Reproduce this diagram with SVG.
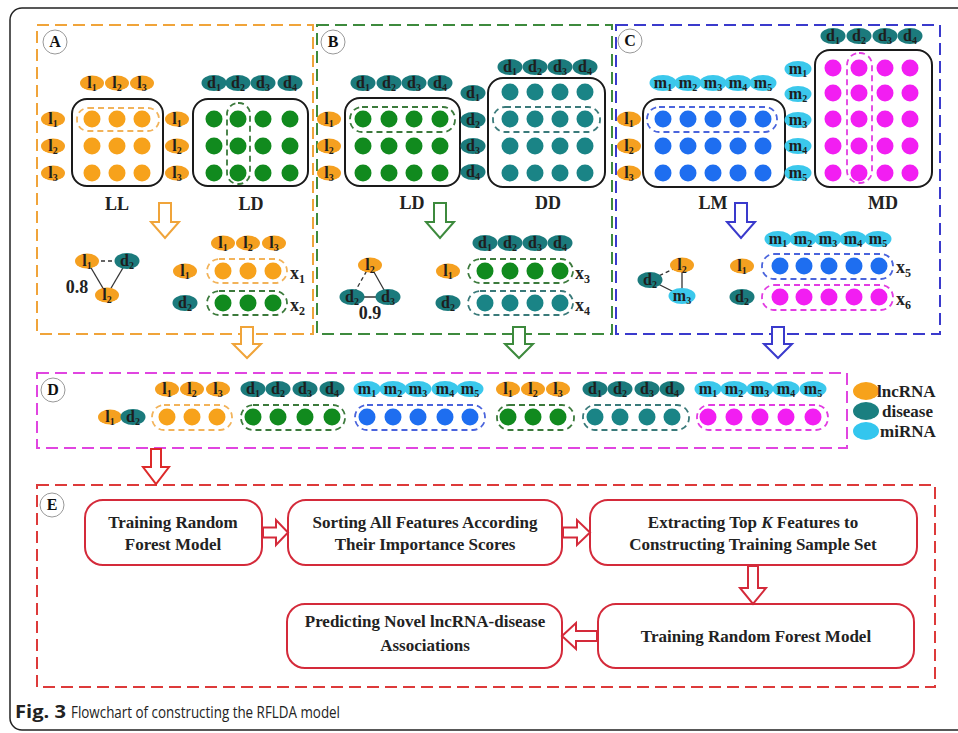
<svg xmlns="http://www.w3.org/2000/svg" xmlns:xlink="http://www.w3.org/1999/xlink" width="958" height="733" viewBox="0 0 958 733">
<style>
.frame{fill:none;stroke:#222;stroke-width:1.5}
.pb{fill:none;stroke-width:2;stroke-dasharray:12 6}
.mx{fill:none;stroke:#1a1a1a;stroke-width:2}
.dsh{fill:none;stroke-width:1.8;stroke-dasharray:6 4}
.co{fill:#F7A21B}.cg{fill:#118A1E}.ct{fill:#1A8486}.cb{fill:#1E6EF0}.cm{fill:#F21EF2}
.eo{fill:#F5A020}.et{fill:#1B7A7C}.ec{fill:#3BC8EC}
.lt{font-family:"Liberation Serif",serif;font-weight:bold;font-size:16px;fill:#1e1e1e;text-anchor:middle}
.sb{font-size:10px}
.big{font-family:"Liberation Serif",serif;font-weight:bold;font-size:18px;fill:#222;text-anchor:middle}
.xl{font-family:"Liberation Serif",serif;font-weight:bold;font-size:18px;fill:#222}
.pc{fill:#fff;stroke:#999;stroke-width:1}
.pt{font-family:"Liberation Serif",serif;font-weight:bold;font-size:16px;fill:#111;text-anchor:middle}
.bx{fill:#fff;stroke:#D42A3A;stroke-width:2}
.bt{font-family:"Liberation Serif",serif;font-weight:bold;font-size:17px;fill:#222;text-anchor:middle}
.ed{stroke:#333;stroke-width:1.3;fill:none}
.edd{stroke:#333;stroke-width:1.3;fill:none;stroke-dasharray:4 3}
.ha{fill:#fff;stroke-width:2;stroke-linejoin:miter}
.leg{font-family:"Liberation Serif",serif;font-weight:bold;font-size:17px;fill:#222}
.cap{font-family:"Open Sans","Noto Sans",sans-serif;font-size:17px;fill:#222}
</style>
<defs>
<g id="l1"><ellipse class="eo" rx="12" ry="7.5"/><text class="lt" y="5">l<tspan class="sb" dy="3">1</tspan></text></g>
<g id="l2"><ellipse class="eo" rx="12" ry="7.5"/><text class="lt" y="5">l<tspan class="sb" dy="3">2</tspan></text></g>
<g id="l3"><ellipse class="eo" rx="12" ry="7.5"/><text class="lt" y="5">l<tspan class="sb" dy="3">3</tspan></text></g>
<g id="d1"><ellipse class="et" rx="12.5" ry="8"/><text class="lt" y="5">d<tspan class="sb" dy="3">1</tspan></text></g>
<g id="d2"><ellipse class="et" rx="12.5" ry="8"/><text class="lt" y="5">d<tspan class="sb" dy="3">2</tspan></text></g>
<g id="d3"><ellipse class="et" rx="12.5" ry="8"/><text class="lt" y="5">d<tspan class="sb" dy="3">3</tspan></text></g>
<g id="d4"><ellipse class="et" rx="12.5" ry="8"/><text class="lt" y="5">d<tspan class="sb" dy="3">4</tspan></text></g>
<g id="m1"><ellipse class="ec" rx="13.5" ry="8"/><text class="lt" y="5">m<tspan class="sb" dy="3">1</tspan></text></g>
<g id="m2"><ellipse class="ec" rx="13.5" ry="8"/><text class="lt" y="5">m<tspan class="sb" dy="3">2</tspan></text></g>
<g id="m3"><ellipse class="ec" rx="13.5" ry="8"/><text class="lt" y="5">m<tspan class="sb" dy="3">3</tspan></text></g>
<g id="m4"><ellipse class="ec" rx="13.5" ry="8"/><text class="lt" y="5">m<tspan class="sb" dy="3">4</tspan></text></g>
<g id="m5"><ellipse class="ec" rx="13.5" ry="8"/><text class="lt" y="5">m<tspan class="sb" dy="3">5</tspan></text></g>
</defs>

<rect width="958" height="733" fill="#fff"/>
<path class="frame" d="M958,8 H22 A12,12 0 0 0 10,20 V718 A12,12 0 0 0 22,730 H958"/>

<!-- Panel A -->
<g id="panel-A">
<rect class="pb" x="37" y="25" width="276" height="309" stroke="#F0A43A"/>
<circle class="pc" cx="55" cy="42" r="12"/><text class="pt" x="55" y="47">A</text>
<use href="#l1" x="92" y="83"/><use href="#l2" x="117" y="83"/><use href="#l3" x="142" y="83"/>
<use href="#d1" x="214" y="83"/><use href="#d2" x="238" y="83"/><use href="#d3" x="263" y="83"/><use href="#d4" x="290" y="83"/>
<use href="#l1" x="53" y="119"/><use href="#l2" x="53" y="146"/><use href="#l3" x="53" y="173"/>
<use href="#l1" x="177" y="119"/><use href="#l2" x="177" y="146"/><use href="#l3" x="177" y="173"/>
<g id="matrix-LL">
<rect class="mx" x="72" y="99" width="91" height="87" rx="15"/>
<circle class="co" cx="92" cy="119" r="8.5"/><circle class="co" cx="117" cy="119" r="8.5"/><circle class="co" cx="142" cy="119" r="8.5"/>
<circle class="co" cx="92" cy="146" r="8.5"/><circle class="co" cx="117" cy="146" r="8.5"/><circle class="co" cx="142" cy="146" r="8.5"/>
<circle class="co" cx="92" cy="173" r="8.5"/><circle class="co" cx="117" cy="173" r="8.5"/><circle class="co" cx="142" cy="173" r="8.5"/>
<rect class="dsh" x="77" y="108" width="82" height="23" rx="11" stroke="#F2B35A"/>
</g>
<g id="matrix-LD-A">
<rect class="mx" x="193" y="99" width="115" height="87" rx="15"/>
<circle class="cg" cx="214" cy="119" r="8.5"/><circle class="cg" cx="238" cy="119" r="8.5"/><circle class="cg" cx="263" cy="119" r="8.5"/><circle class="cg" cx="290" cy="119" r="8.5"/>
<circle class="cg" cx="214" cy="146" r="8.5"/><circle class="cg" cx="238" cy="146" r="8.5"/><circle class="cg" cx="263" cy="146" r="8.5"/><circle class="cg" cx="290" cy="146" r="8.5"/>
<circle class="cg" cx="214" cy="173" r="8.5"/><circle class="cg" cx="238" cy="173" r="8.5"/><circle class="cg" cx="263" cy="173" r="8.5"/><circle class="cg" cx="290" cy="173" r="8.5"/>
<rect class="dsh" x="227" y="103" width="23" height="81" rx="11" stroke="#3C7A3C"/>
</g>
<text class="big" x="117" y="210">LL</text><text class="big" x="251" y="210">LD</text>
<g id="triangle-A">
<line class="edd" x1="87" y1="261" x2="127" y2="261"/><line class="ed" x1="87" y1="261" x2="107" y2="295"/><line class="ed" x1="127" y1="261" x2="107" y2="295"/>
<use href="#l1" x="87" y="261"/><use href="#d2" x="127" y="261"/><use href="#l2" x="107" y="295"/>
<text class="big" x="77" y="293">0.8</text>
</g>
<use href="#l1" x="223" y="243"/><use href="#l2" x="248" y="243"/><use href="#l3" x="274" y="243"/>
<use href="#l1" x="185" y="271"/>
<rect class="dsh" x="207" y="259" width="80" height="24" rx="12" stroke="#F2B35A"/>
<circle class="co" cx="223" cy="271" r="8.5"/><circle class="co" cx="248" cy="271" r="8.5"/><circle class="co" cx="273" cy="271" r="8.5"/>
<text class="xl" x="290" y="279">x<tspan font-size="12" dy="4">1</tspan></text>
<use href="#d2" x="185" y="303"/>
<rect class="dsh" x="207" y="291" width="80" height="24" rx="12" stroke="#3C7A3C"/>
<circle class="cg" cx="223" cy="303" r="8.5"/><circle class="cg" cx="248" cy="303" r="8.5"/><circle class="cg" cx="273" cy="303" r="8.5"/>
<text class="xl" x="290" y="311">x<tspan font-size="12" dy="4">2</tspan></text>
</g>

<!-- Panel B -->
<g id="panel-B">
<rect class="pb" x="317" y="25" width="295" height="309" stroke="#3D8A3D"/>
<circle class="pc" cx="333" cy="42" r="12"/><text class="pt" x="333" y="47">B</text>
<use href="#l1" x="329" y="119"/><use href="#l2" x="329" y="146"/><use href="#l3" x="329" y="173"/>
<use href="#d1" x="363" y="83"/><use href="#d2" x="389" y="83"/><use href="#d3" x="414" y="83"/><use href="#d4" x="440" y="83"/>
<g id="matrix-LD-B">
<rect class="mx" x="345" y="98" width="115" height="88" rx="15"/>
<circle class="cg" cx="363" cy="119" r="8.5"/><circle class="cg" cx="389" cy="119" r="8.5"/><circle class="cg" cx="414" cy="119" r="8.5"/><circle class="cg" cx="440" cy="119" r="8.5"/>
<circle class="cg" cx="363" cy="146" r="8.5"/><circle class="cg" cx="389" cy="146" r="8.5"/><circle class="cg" cx="414" cy="146" r="8.5"/><circle class="cg" cx="440" cy="146" r="8.5"/>
<circle class="cg" cx="363" cy="173" r="8.5"/><circle class="cg" cx="389" cy="173" r="8.5"/><circle class="cg" cx="414" cy="173" r="8.5"/><circle class="cg" cx="440" cy="173" r="8.5"/>
<rect class="dsh" x="350" y="107" width="105" height="25" rx="12" stroke="#3C7A3C"/>
</g>
<use href="#d1" x="473" y="93"/><use href="#d2" x="473" y="120"/><use href="#d3" x="473" y="146"/><use href="#d4" x="473" y="172"/>
<use href="#d1" x="510" y="67"/><use href="#d2" x="535" y="67"/><use href="#d3" x="560" y="67"/><use href="#d4" x="585" y="67"/>
<g id="matrix-DD">
<rect class="mx" x="488" y="78" width="117" height="109" rx="15"/>
<circle class="ct" cx="510" cy="92" r="8.5"/><circle class="ct" cx="535" cy="92" r="8.5"/><circle class="ct" cx="560" cy="92" r="8.5"/><circle class="ct" cx="585" cy="92" r="8.5"/>
<circle class="ct" cx="510" cy="119" r="8.5"/><circle class="ct" cx="535" cy="119" r="8.5"/><circle class="ct" cx="560" cy="119" r="8.5"/><circle class="ct" cx="585" cy="119" r="8.5"/>
<circle class="ct" cx="510" cy="146" r="8.5"/><circle class="ct" cx="535" cy="146" r="8.5"/><circle class="ct" cx="560" cy="146" r="8.5"/><circle class="ct" cx="585" cy="146" r="8.5"/>
<circle class="ct" cx="510" cy="173" r="8.5"/><circle class="ct" cx="535" cy="173" r="8.5"/><circle class="ct" cx="560" cy="173" r="8.5"/><circle class="ct" cx="585" cy="173" r="8.5"/>
<rect class="dsh" x="493" y="107" width="107" height="25" rx="12" stroke="#3A7A7A"/>
</g>
<text class="big" x="412" y="209">LD</text><text class="big" x="548" y="209">DD</text>
<g id="triangle-B">
<line class="edd" x1="370" y1="265" x2="352" y2="297"/><line class="ed" x1="370" y1="265" x2="388" y2="297"/><line class="ed" x1="352" y1="297" x2="388" y2="297"/>
<use href="#l2" x="370" y="265"/><use href="#d2" x="352" y="297"/><use href="#d3" x="388" y="297"/>
<text class="big" x="370" y="319">0.9</text>
</g>
<use href="#d1" x="485" y="243"/><use href="#d2" x="510" y="243"/><use href="#d3" x="535" y="243"/><use href="#d4" x="560" y="243"/>
<use href="#l1" x="448" y="271"/>
<rect class="dsh" x="468" y="259" width="105" height="24" rx="12" stroke="#3C7A3C"/>
<circle class="cg" cx="485" cy="271" r="8.5"/><circle class="cg" cx="510" cy="271" r="8.5"/><circle class="cg" cx="535" cy="271" r="8.5"/><circle class="cg" cx="560" cy="271" r="8.5"/>
<text class="xl" x="575" y="279">x<tspan font-size="12" dy="4">3</tspan></text>
<use href="#d2" x="448" y="303"/>
<rect class="dsh" x="468" y="291" width="105" height="24" rx="12" stroke="#3A7A7A"/>
<circle class="ct" cx="485" cy="303" r="8.5"/><circle class="ct" cx="510" cy="303" r="8.5"/><circle class="ct" cx="535" cy="303" r="8.5"/><circle class="ct" cx="560" cy="303" r="8.5"/>
<text class="xl" x="575" y="311">x<tspan font-size="12" dy="4">4</tspan></text>
</g>

<!-- Panel C -->
<g id="panel-C">
<rect class="pb" x="616" y="25" width="324" height="309" stroke="#3A3ACC"/>
<circle class="pc" cx="630" cy="41" r="12"/><text class="pt" x="630" y="46">C</text>
<use href="#l1" x="629" y="119"/><use href="#l2" x="629" y="146"/><use href="#l3" x="629" y="173"/>
<use href="#m1" x="663" y="83"/><use href="#m2" x="688" y="83"/><use href="#m3" x="713" y="83"/><use href="#m4" x="738" y="83"/><use href="#m5" x="763" y="83"/>
<g id="matrix-LM">
<rect class="mx" x="643" y="99" width="142" height="88" rx="15"/>
<circle class="cb" cx="663" cy="119" r="8.5"/><circle class="cb" cx="688" cy="119" r="8.5"/><circle class="cb" cx="713" cy="119" r="8.5"/><circle class="cb" cx="738" cy="119" r="8.5"/><circle class="cb" cx="763" cy="119" r="8.5"/>
<circle class="cb" cx="663" cy="146" r="8.5"/><circle class="cb" cx="688" cy="146" r="8.5"/><circle class="cb" cx="713" cy="146" r="8.5"/><circle class="cb" cx="738" cy="146" r="8.5"/><circle class="cb" cx="763" cy="146" r="8.5"/>
<circle class="cb" cx="663" cy="173" r="8.5"/><circle class="cb" cx="688" cy="173" r="8.5"/><circle class="cb" cx="713" cy="173" r="8.5"/><circle class="cb" cx="738" cy="173" r="8.5"/><circle class="cb" cx="763" cy="173" r="8.5"/>
<rect class="dsh" x="647" y="107" width="130" height="25" rx="12" stroke="#4A64DC"/>
</g>
<use href="#m1" x="798" y="69"/><use href="#m2" x="798" y="94"/><use href="#m3" x="798" y="120"/><use href="#m4" x="798" y="146"/><use href="#m5" x="798" y="173"/>
<use href="#d1" x="833" y="36"/><use href="#d2" x="859" y="36"/><use href="#d3" x="885" y="36"/><use href="#d4" x="910" y="36"/>
<g id="matrix-MD">
<rect class="mx" x="815" y="50" width="117" height="137" rx="15"/>
<circle class="cm" cx="833" cy="68" r="8.5"/><circle class="cm" cx="859" cy="68" r="8.5"/><circle class="cm" cx="885" cy="68" r="8.5"/><circle class="cm" cx="910" cy="68" r="8.5"/>
<circle class="cm" cx="833" cy="93" r="8.5"/><circle class="cm" cx="859" cy="93" r="8.5"/><circle class="cm" cx="885" cy="93" r="8.5"/><circle class="cm" cx="910" cy="93" r="8.5"/>
<circle class="cm" cx="833" cy="119" r="8.5"/><circle class="cm" cx="859" cy="119" r="8.5"/><circle class="cm" cx="885" cy="119" r="8.5"/><circle class="cm" cx="910" cy="119" r="8.5"/>
<circle class="cm" cx="833" cy="146" r="8.5"/><circle class="cm" cx="859" cy="146" r="8.5"/><circle class="cm" cx="885" cy="146" r="8.5"/><circle class="cm" cx="910" cy="146" r="8.5"/>
<circle class="cm" cx="833" cy="173" r="8.5"/><circle class="cm" cx="859" cy="173" r="8.5"/><circle class="cm" cx="885" cy="173" r="8.5"/><circle class="cm" cx="910" cy="173" r="8.5"/>
<rect class="dsh" x="847" y="53" width="25" height="130" rx="12" stroke="#E23DE2"/>
</g>
<text class="big" x="713" y="209">LM</text><text class="big" x="883" y="209">MD</text>
<g id="triangle-C">
<line class="edd" x1="682" y1="265" x2="650" y2="280"/><line class="ed" x1="682" y1="265" x2="682" y2="296"/><line class="ed" x1="650" y1="280" x2="682" y2="296"/>
<use href="#l2" x="682" y="265"/><use href="#d2" x="650" y="280"/><use href="#m3" x="682" y="296"/>
</g>
<use href="#m1" x="778" y="239"/><use href="#m2" x="803" y="239"/><use href="#m3" x="828" y="239"/><use href="#m4" x="853" y="239"/><use href="#m5" x="878" y="239"/>
<use href="#l1" x="742" y="266"/>
<rect class="dsh" x="762" y="254" width="131" height="25" rx="12" stroke="#4A64DC"/>
<circle class="cb" cx="780" cy="266" r="8.5"/><circle class="cb" cx="804" cy="266" r="8.5"/><circle class="cb" cx="829" cy="266" r="8.5"/><circle class="cb" cx="854" cy="266" r="8.5"/><circle class="cb" cx="879" cy="266" r="8.5"/>
<text class="xl" x="896" y="273">x<tspan font-size="12" dy="4">5</tspan></text>
<use href="#d2" x="742" y="297"/>
<rect class="dsh" x="762" y="285" width="131" height="25" rx="12" stroke="#E23DE2"/>
<circle class="cm" cx="780" cy="297" r="8.5"/><circle class="cm" cx="804" cy="297" r="8.5"/><circle class="cm" cx="829" cy="297" r="8.5"/><circle class="cm" cx="854" cy="297" r="8.5"/><circle class="cm" cx="879" cy="297" r="8.5"/>
<text class="xl" x="896" y="305">x<tspan font-size="12" dy="4">6</tspan></text>
</g>

<!-- Panel D -->
<g id="panel-D">
<rect class="pb" x="37" y="373" width="810" height="75" stroke="#E045E0"/>
<circle class="pc" cx="53" cy="390" r="12"/><text class="pt" x="53" y="395">D</text>
<use href="#l1" x="110" y="417"/><use href="#d2" x="133" y="417"/>
<use href="#l1" x="167" y="389"/><use href="#l2" x="192" y="389"/><use href="#l3" x="218" y="389"/>
<rect class="dsh" x="152" y="405" width="80" height="25" rx="12" stroke="#F2B35A"/>
<circle class="co" cx="167" cy="417" r="8.5"/><circle class="co" cx="192" cy="417" r="8.5"/><circle class="co" cx="217" cy="417" r="8.5"/>
<use href="#d1" x="253" y="389"/><use href="#d2" x="278" y="389"/><use href="#d3" x="305" y="389"/><use href="#d4" x="332" y="389"/>
<rect class="dsh" x="241" y="405" width="104" height="25" rx="12" stroke="#3C7A3C"/>
<circle class="cg" cx="253" cy="417" r="8.5"/><circle class="cg" cx="278" cy="417" r="8.5"/><circle class="cg" cx="305" cy="417" r="8.5"/><circle class="cg" cx="332" cy="417" r="8.5"/>
<use href="#m1" x="367" y="389"/><use href="#m2" x="393" y="389"/><use href="#m3" x="418" y="389"/><use href="#m4" x="445" y="389"/><use href="#m5" x="470" y="389"/>
<rect class="dsh" x="355" y="405" width="130" height="25" rx="12" stroke="#4A64DC"/>
<circle class="cb" cx="367" cy="417" r="8.5"/><circle class="cb" cx="393" cy="417" r="8.5"/><circle class="cb" cx="418" cy="417" r="8.5"/><circle class="cb" cx="445" cy="417" r="8.5"/><circle class="cb" cx="470" cy="417" r="8.5"/>
<use href="#l1" x="508" y="389"/><use href="#l2" x="533" y="389"/><use href="#l3" x="558" y="389"/>
<rect class="dsh" x="497" y="405" width="77" height="25" rx="12" stroke="#3C7A3C"/>
<circle class="cg" cx="508" cy="417" r="8.5"/><circle class="cg" cx="533" cy="417" r="8.5"/><circle class="cg" cx="558" cy="417" r="8.5"/>
<use href="#d1" x="595" y="389"/><use href="#d2" x="620" y="389"/><use href="#d3" x="647" y="389"/><use href="#d4" x="672" y="389"/>
<rect class="dsh" x="583" y="405" width="106" height="25" rx="12" stroke="#3A7A7A"/>
<circle class="ct" cx="595" cy="417" r="8.5"/><circle class="ct" cx="620" cy="417" r="8.5"/><circle class="ct" cx="647" cy="417" r="8.5"/><circle class="ct" cx="672" cy="417" r="8.5"/>
<use href="#m1" x="708" y="389"/><use href="#m2" x="734" y="389"/><use href="#m3" x="760" y="389"/><use href="#m4" x="786" y="389"/><use href="#m5" x="813" y="389"/>
<rect class="dsh" x="697" y="405" width="131" height="25" rx="12" stroke="#E23DE2"/>
<circle class="cm" cx="708" cy="417" r="8.5"/><circle class="cm" cx="734" cy="417" r="8.5"/><circle class="cm" cx="760" cy="417" r="8.5"/><circle class="cm" cx="786" cy="417" r="8.5"/><circle class="cm" cx="813" cy="417" r="8.5"/>
</g>

<g id="legend">
<ellipse cx="866" cy="391" rx="13" ry="9" fill="#F7A21B"/><text class="leg" x="877" y="397">lncRNA</text>
<ellipse cx="866" cy="411" rx="13" ry="9" fill="#1A7F80"/><text class="leg" x="882" y="417">disease</text>
<ellipse cx="866" cy="431" rx="13" ry="9" fill="#33C6EE"/><text class="leg" x="880" y="437">miRNA</text>
</g>

<!-- Panel E -->
<g id="panel-E">
<rect class="pb" x="37" y="485" width="898" height="202" stroke="#DD3A3A"/>
<circle class="pc" cx="52" cy="505" r="12"/><text class="pt" x="52" y="510">E</text>
</g>
<g id="node-train1">
<rect class="bx" x="85" y="500" width="177" height="65" rx="18"/>
<text class="bt" x="173" y="528">Training Random</text><text class="bt" x="173" y="550">Forest Model</text>
</g>
<g id="node-sort">
<rect class="bx" x="288" y="500" width="274" height="65" rx="18"/>
<text class="bt" x="425" y="528">Sorting All Features According</text><text class="bt" x="425" y="550">Their Importance Scores</text>
</g>
<g id="node-extract">
<rect class="bx" x="590" y="500" width="327" height="65" rx="18"/>
<text class="bt" x="753" y="528">Extracting Top <tspan font-style="italic">K</tspan> Features to</text><text class="bt" x="753" y="550">Constructing Training Sample Set</text>
</g>
<g id="node-train2">
<rect class="bx" x="598" y="604" width="316" height="64" rx="18"/>
<text class="bt" x="756" y="642">Training Random Forest Model</text>
</g>
<g id="node-predict">
<rect class="bx" x="287" y="604" width="275" height="64" rx="18"/>
<text class="bt" x="425" y="627">Predicting Novel lncRNA-disease</text><text class="bt" x="425" y="651">Associations</text>
</g>

<!-- Connectors -->
<g id="connectors">
<path class="ha" stroke="#F0A43A" d="M159,203 H171 V222 H179 L165,238 L151,222 H159 Z"/>
<path class="ha" stroke="#3D8A3D" d="M434,203 H446 V222 H454 L440,238 L426,222 H434 Z"/>
<path class="ha" stroke="#3A3ACC" d="M735,203 H747 V222 H755 L741,238 L727,222 H735 Z"/>
<path class="ha" stroke="#F0A43A" d="M241,327 H253 V344 H261 L247,358 L233,344 H241 Z"/>
<path class="ha" stroke="#3D8A3D" d="M513,327 H525 V344 H533 L519,358 L505,344 H513 Z"/>
<path class="ha" stroke="#3A3ACC" d="M772,327 H784 V344 H792 L778,358 L764,344 H772 Z"/>
<path class="ha" stroke="#DD2A2A" d="M151,449 H161 V467 H169 L156,484 L143,467 H151 Z"/>
<path class="ha" stroke="#D42A3A" d="M263,527.5 H276 V520 L288,532.5 L276,545 V537.5 H263 Z"/>
<path class="ha" stroke="#D42A3A" d="M563,527.5 H577 V520 L590,532.5 L577,545 V537.5 H563 Z"/>
<path class="ha" stroke="#D42A3A" d="M748,566 H758 V588 H766 L753,604 L740,588 H748 Z"/>
<path class="ha" stroke="#D42A3A" d="M597,631 H576 V623 L562,636 L576,649 V641 H597 Z"/>
</g>

<g id="caption">
<text class="cap" x="15" y="718" font-weight="bold" textLength="51" lengthAdjust="spacingAndGlyphs">Fig. 3</text>
<text class="cap" x="71" y="718" textLength="269" lengthAdjust="spacingAndGlyphs">Flowchart of constructing the RFLDA model</text>
</g>
</svg>
